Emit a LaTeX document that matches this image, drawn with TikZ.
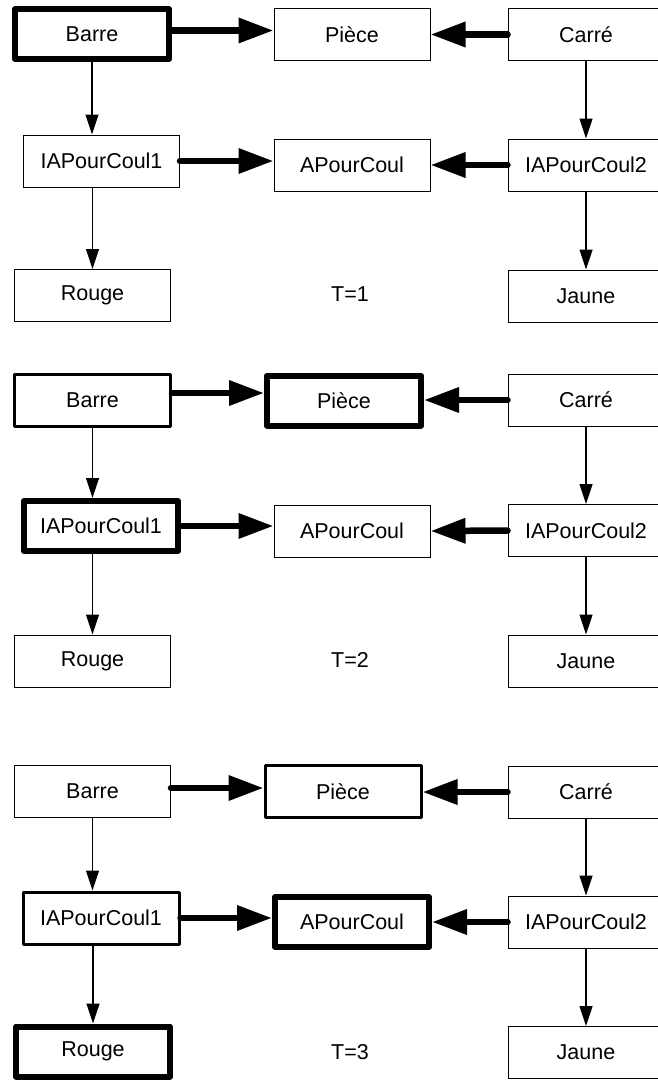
\documentclass[tikz,border=0pt]{standalone}
\usepackage{fontspec}
\setmainfont{Liberation Sans}
\usetikzlibrary{arrows.meta}

\begin{document}
\begin{tikzpicture}[x=1pt,y=-1pt,
		box/.style={draw, line width=1pt, minimum width=156pt, minimum height=52pt, inner sep=0pt, font=\fontsize{21.5}{24}\selectfont},
		midbox/.style={box, line width=3pt, line join=round},
		bigbox/.style={box, line width=6pt, line join=round, minimum width=154pt, minimum height=50pt},
		lbl/.style={inner sep=0pt, font=\fontsize{21.5}{24}\selectfont},
		fine/.style={line width=1.2pt, -{Triangle[length=20pt,width=13pt]}},
		fat/.style={line width=6.5pt, line cap=round, -{Triangle[length=35pt,width=24pt]}}]
		\useasboundingbox (0,0) rectangle (658,1081);
		%T=1
		\node[bigbox] (barre1) at (92,34) {Barre};
		\node[box] (piece1) at (352,34.5) {Pièce};
		\node[box] (carre1) at (586,34.5) {Carré};
		\node[box] (iapcg1) at (101.5,161) {IAPourCoul1};
		\node[box] (apc1) at (352,165) {APourCoul};
		\node[box] (iapcd1) at (586,165) {IAPourCoul2};
		\node[box] (rouge1) at (92.5,295.5) {Rouge};
		\node[lbl] (t1) at (350,294) {T=1};
		\node[box] (jaune1) at (586,296) {Jaune};
		\draw [fat] ([yshift=3.5pt]barre1.east) -- ([yshift=3.5pt]barre1.east -| piece1.west);
		\draw [fat] (carre1.west) -- (piece1.east);
		\draw [fat] (iapcg1.east) -- (iapcg1.east -| apc1.west);
		\draw [fat] (iapcd1.west) -- (apc1.east);
		\draw [fine] (barre1.south) -- (barre1.south |- iapcg1.north);
		\draw [fine] (rouge1.north |- iapcg1.south) -- (rouge1.north);
		\draw [fine] (carre1.south) -- (iapcd1.north);
		\draw [fine] (iapcd1.south) -- (jaune1.north);
		%T=2
		\node[midbox] (barre2) at (92.5,400) {Barre};
		\node[bigbox] (piece2) at (344,400.5) {Pièce};
		\node[box] (carre2) at (586,400) {Carré};
		\node[bigbox] (iapcg2) at (101,526) {IAPourCoul1};
		\node[box] (apc2) at (352,531) {APourCoul};
		\node[box] (iapcd2) at (586,530.5) {IAPourCoul2};
		\node[box] (rouge2) at (92.5,661) {Rouge};
		\node[lbl] (t2) at (350,660) {T=2};
		\node[box] (jaune2) at (586,661) {Jaune};
		\draw [fat] ([yshift=7pt]barre2.east) -- ([yshift=7pt]barre2.east -| piece2.west);
		\draw [fat] (carre2.west) -- (carre2.west -| piece2.east);
		\draw [fat] (iapcg2.east) -- (iapcg2.east -| apc2.west);
		\draw [fat] (iapcd2.west) -- (apc2.east);
		\draw [fine] (barre2.south) -- (barre2.south |- iapcg2.north);
		\draw [fine] (rouge2.north |- iapcg2.south) -- (rouge2.north);
		\draw [fine] (carre2.south) -- (iapcd2.north);
		\draw [fine] (iapcd2.south) -- (jaune2.north);
		%T=3
		\node[box] (barre3) at (92.5,791.5) {Barre};
		\node[midbox] (piece3) at (343,791.5) {Pièce};
		\node[box] (carre3) at (586,792) {Carré};
		\node[midbox] (iapcg3) at (101,918) {IAPourCoul1};
		\node[bigbox] (apc3) at (352,922) {APourCoul};
		\node[box] (iapcd3) at (586,922) {IAPourCoul2};
		\node[bigbox] (rouge3) at (93,1051.5) {Rouge};
		\node[lbl] (t3) at (350,1052) {T=3};
		\node[box] (jaune3) at (586,1052.5) {Jaune};
		\draw [fat] ([yshift=3.5pt]barre3.east) -- ([yshift=3.5pt]barre3.east -| piece3.west);
		\draw [fat] (carre3.west) -- (carre3.west -| piece3.east);
		\draw [fat] (iapcg3.east) -- (iapcg3.east -| apc3.west);
		\draw [fat] (iapcd3.west) -- (apc3.east);
		\draw [fine] (barre3.south) -- (barre3.south |- iapcg3.north);
		\draw [fine] (rouge3.north |- iapcg3.south) -- (rouge3.north);
		\draw [fine] (carre3.south) -- (iapcd3.north);
		\draw [fine] (iapcd3.south) -- (jaune3.north);
	\end{tikzpicture}
\end{document}
